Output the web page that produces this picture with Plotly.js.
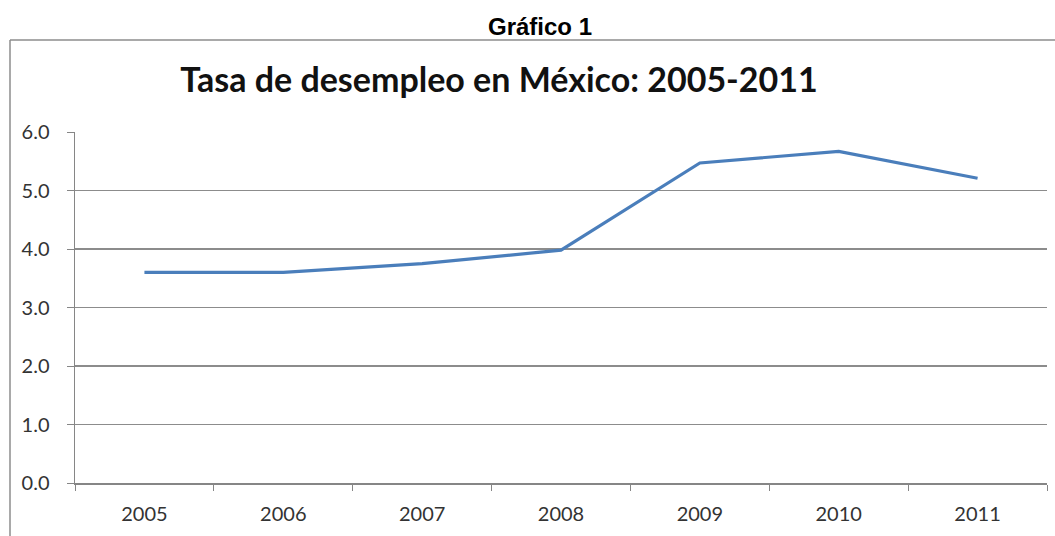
<!DOCTYPE html>
<html>
<head>
<meta charset="utf-8">
<script src="https://cdn.plot.ly/plotly-3.0.1.min.js"></script>
<style>html,body{margin:0;padding:0;background:#fff;}#chart{width:1055px;height:536px;}</style>
</head>
<body>
<div id="chart"></div>
<script>
const years = ['2005', '2006', '2007', '2008', '2009', '2010', '2011'];
const unemploymentRate = [3.6, 3.6, 3.75, 3.98, 5.47, 5.67, 5.21];
const yTickValues = [0, 1, 2, 3, 4, 5, 6];
const yTickLabels = ['0.0', '1.0', '2.0', '3.0', '4.0', '5.0', '6.0'];
const chartTitle = 'Tasa de desempleo en México: 2005-2011';
const figureLabel = 'Gráfico 1';

const W = 1055, H = 536;
const m = {l: 75, r: 8, t: 132, b: 53};
const pw = W - m.l - m.r, ph = H - m.t - m.b;
const px = x => (x - m.l) / pw;
const py = y => (H - m.b - y) / ph;

const trace = {
  x: years,
  y: unemploymentRate,
  type: 'scatter',
  mode: 'lines',
  line: {color: '#4A7EBB', width: 3.2},
  hoverinfo: 'x+y'
};

const layout = {
  width: W, height: H,
  margin: m,
  paper_bgcolor: '#fff',
  plot_bgcolor: '#fff',
  showlegend: false,
  font: {family: 'Lato, "Open Sans", sans-serif', color: '#333'},
  title: {
    text: '<b>' + chartTitle + '</b>',
    font: {family: 'Lato, "Open Sans", sans-serif', size: 34, color: '#111'},
    x: px(499), xref: 'paper', xanchor: 'center',
    y: 1 - 80 / H, yref: 'container', yanchor: 'middle'
  },
  xaxis: {
    type: 'category',
    range: [-0.5, 6.5],
    showgrid: false,
    showline: true, linecolor: '#868686', linewidth: 1.5,
    ticks: 'outside', tickson: 'boundaries', ticklen: 6, tickcolor: '#868686', tickwidth: 1,
    tickfont: {size: 20, color: '#333'},
    ticklabelstandoff: 12,
    zeroline: false,
    fixedrange: true
  },
  yaxis: {
    range: [0, 6],
    tickvals: yTickValues,
    ticktext: yTickLabels,
    showgrid: true, gridcolor: '#8C8C8C', gridwidth: 1.3,
    showline: true, linecolor: '#868686', linewidth: 1.5,
    ticks: 'outside', ticklen: 7, tickcolor: '#868686', tickwidth: 1,
    tickfont: {size: 20, color: '#333'},
    ticklabelstandoff: 13,
    zeroline: false,
    fixedrange: true
  },
  shapes: [
    {type: 'line', xref: 'paper', yref: 'paper', x0: px(10), x1: px(1055), y0: py(40), y1: py(40),
     line: {color: '#8C8C8C', width: 1.5}},
    {type: 'line', xref: 'paper', yref: 'paper', x0: px(10), x1: px(10), y0: py(40), y1: py(536),
     line: {color: '#8C8C8C', width: 1.5}}
  ],
  annotations: [
    {text: '<b>' + figureLabel + '</b>', xref: 'paper', yref: 'paper',
     x: px(540), y: py(26), xanchor: 'center', yanchor: 'middle', showarrow: false,
     font: {family: '"Liberation Sans", Arial, sans-serif', size: 24, color: '#000'}}
  ]
};

Plotly.newPlot('chart', [trace], layout, {displayModeBar: false, staticPlot: true});
</script>
</body>
</html>
